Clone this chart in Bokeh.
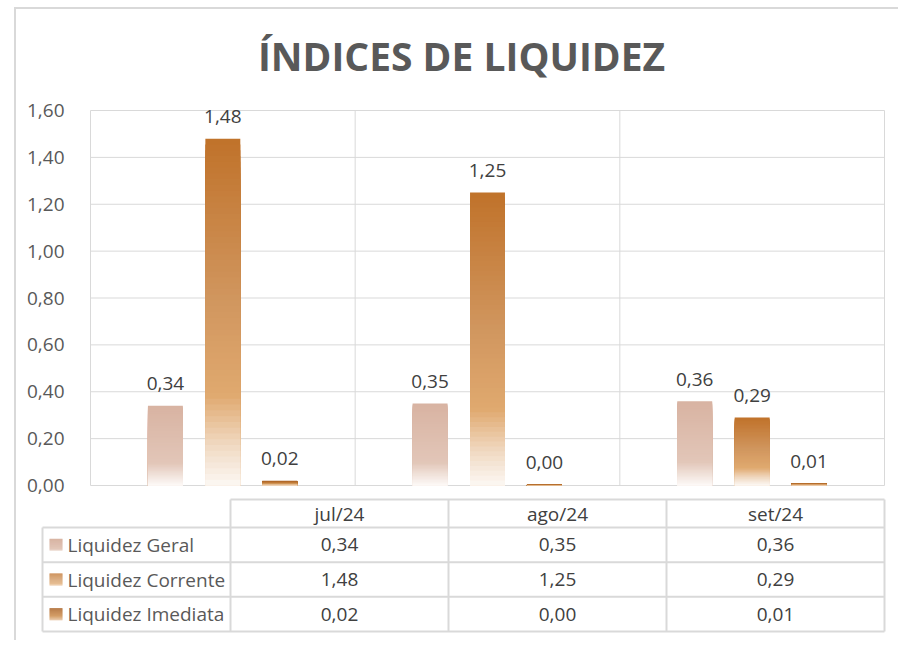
import numpy as np
from bokeh.plotting import figure
from bokeh.models import Range1d, FixedTicker, CustomJSTickFormatter, ColumnDataSource
from bokeh.layouts import column
from bokeh.embed import file_html
from bokeh.resources import INLINE
from bokeh.core.properties import value

# ---------------- data ----------------
months = ["jul/24", "ago/24", "set/24"]
series = ["Liquidez Geral", "Liquidez Corrente", "Liquidez Imediata"]
liq_geral = [0.34, 0.35, 0.36]
liq_corrente = [1.48, 1.25, 0.29]
liq_imediata = [0.02, 0.004, 0.01]
y_ticks = [0.0, 0.2, 0.4, 0.6, 0.8, 1.0, 1.2, 1.4, 1.6]
title_text = "ÍNDICES DE LIQUIDEZ"

# ---------------- styles ----------------
FONT = "Open Sans"
FS = "19px"
GRID = "#D9D9D9"
TXT = "#404040"
TXT2 = "#595959"
gradients = {
    "Liquidez Geral": [(0.0, "#D8B3A2"), (0.72, "#E2C6B8"), (1.0, "#FDFAF8")],
    "Liquidez Corrente": [(0.0, "#C0722A"), (0.45, "#D0955D"), (0.74, "#E0A96F"), (0.88, "#F0D8C0"), (1.0, "#FCF8F4")],
    "Liquidez Imediata": [(0.0, "#A65C1F"), (0.55, "#C98642"), (1.0, "#F3DDC6")],
}
offsets = [-0.217, 0.0, 0.215]
bar_w = 0.132
N_SLICES = 60


def hex2rgb(h):
    h = h.lstrip("#")
    return np.array([int(h[i:i + 2], 16) for i in (0, 2, 4)], dtype=float)


def grad_color(stops, f):
    for (f0, c0), (f1, c1) in zip(stops[:-1], stops[1:]):
        if f <= f1:
            t = 0 if f1 == f0 else (f - f0) / (f1 - f0)
            c = hex2rgb(c0) * (1 - t) + hex2rgb(c1) * t
            return "#%02x%02x%02x" % tuple(int(round(v)) for v in c)
    return stops[-1][1]


def fmt(v):
    return ("%.2f" % v).replace(".", ",")


# ---------------- geometry (pixels of the frame) ----------------
n_cols = len(months)
n_rows = len(series)
FR_L, FR_R, FR_T, FR_B = 26, 896, 95, 635   # frame edges on the page
px_x = 794 / 3.0          # chart: px per category (0 -> x=90)
px_y = 375 / 1.6          # chart: px per unit (0 -> y=485)
lab_w = 188 / 218.0       # table: label column width in column units
tpx_x = 842 / (n_cols + lab_w)   # table spans x=42..884
row_px = 34.67            # table row 0 top at y=527
hdr_h = 28 / row_px

p = figure(width=882, height=631,
           x_range=Range1d(-(90 - FR_L) / px_x, n_cols + (FR_R - 884) / px_x),
           y_range=Range1d(-(FR_B - 485) / px_y, 1.6 + (110 - FR_T) / px_y),
           output_backend="svg", toolbar_location=None,
           min_border_left=FR_L - 16, min_border_right=898 - FR_R,
           min_border_top=FR_T - 9, min_border_bottom=640 - FR_B,
           title=title_text)
p.extra_x_ranges = {"tab": Range1d(-lab_w - (42 - FR_L) / tpx_x, n_cols + (FR_R - 884) / tpx_x)}
p.extra_y_ranges = {"tab": Range1d((FR_B - 527) / row_px, (FR_T - 527) / row_px)}

p.outline_line_color = None
p.background_fill_color = "white"
p.border_fill_color = "white"
p.title.text_font = FONT
p.title.text_font_size = "39px"
p.title.text_font_style = "bold"
p.title.text_color = TXT2
p.title.align = "center"
p.title.standoff = 28

p.xaxis.visible = False
p.grid.visible = False
p.yaxis.fixed_location = 0
p.yaxis.ticker = FixedTicker(ticks=y_ticks)
p.yaxis.formatter = CustomJSTickFormatter(code="return tick.toFixed(2).replace('.', ',');")
p.yaxis.axis_line_color = None
p.yaxis.major_tick_line_color = None
p.yaxis.minor_tick_line_color = None
p.yaxis.major_label_standoff = 20
p.yaxis.major_label_text_font = FONT
p.yaxis.major_label_text_font_size = FS
p.yaxis.major_label_text_color = TXT2

# gridlines of the plot area
p.segment(x0=[0] * len(y_ticks), x1=[n_cols] * len(y_ticks), y0=y_ticks, y1=y_ticks,
          line_color=GRID, line_width=1)
p.segment(x0=list(range(n_cols + 1)), x1=list(range(n_cols + 1)),
          y0=[0] * (n_cols + 1), y1=[y_ticks[-1]] * (n_cols + 1), line_color=GRID, line_width=1)

# bars with vertical gradient
all_vals = [liq_geral, liq_corrente, liq_imediata]
L, R, B, T, C = [], [], [], [], []
lx, ly, lt = [], [], []
for si, name in enumerate(series):
    stops = gradients[name]
    for mi, v in enumerate(all_vals[si]):
        cx = mi + 0.5 + offsets[si]
        for k in range(N_SLICES - 1, -1, -1):
            f = 1 - (k + 0.5) / N_SLICES
            L.append(cx - bar_w / 2)
            R.append(cx + bar_w / 2)
            B.append(0)
            T.append(v * (k + 1) / N_SLICES)
            C.append(grad_color(stops, f))
        lx.append(cx)
        ly.append(v)
        lt.append(fmt(v))

p.quad(left="left", right="right", bottom="bottom", top="top", fill_color="color",
       line_color=None, source=ColumnDataSource(dict(left=L, right=R, bottom=B, top=T, color=C)))
p.text(x=lx, y=ly, text=lt, text_align="center", text_baseline="alphabetic", y_offset=-22,
       text_font=value(FONT), text_font_size=FS, text_color=TXT)

# ---------------- data table ----------------
x0, y0, x1, y1 = [], [], [], []
x0.append(0); x1.append(n_cols); y0.append(-hdr_h); y1.append(-hdr_h)
for r in range(n_rows + 1):
    x0.append(-lab_w); x1.append(n_cols); y0.append(r); y1.append(r)
x0.append(-lab_w); x1.append(-lab_w); y0.append(0); y1.append(n_rows)
for c in range(n_cols + 1):
    x0.append(c); x1.append(c); y0.append(-hdr_h); y1.append(n_rows)
p.segment(x0=x0, y0=y0, x1=x1, y1=y1, line_color=GRID, line_width=2,
          x_range_name="tab", y_range_name="tab")

p.text(x=[c + 0.5 for c in range(n_cols)], y=[-hdr_h / 2] * n_cols, text=months,
       text_align="center", text_baseline="middle", text_font=value(FONT),
       text_font_size=FS, text_color=TXT, x_range_name="tab", y_range_name="tab")

vx, vy, vt = [], [], []
for r in range(n_rows):
    for c in range(n_cols):
        vx.append(c + 0.5); vy.append(r + 0.5); vt.append(fmt(all_vals[r][c]))
p.text(x=vx, y=vy, text=vt, text_align="center", text_baseline="middle",
       text_font=value(FONT), text_font_size=FS, text_color=TXT,
       x_range_name="tab", y_range_name="tab")

p.text(x=[-lab_w + 25 / 218.0] * n_rows, y=[r + 0.5 for r in range(n_rows)], text=series,
       text_align="left", text_baseline="middle", text_font=value(FONT),
       text_font_size=FS, text_color=TXT2, x_range_name="tab", y_range_name="tab")

# legend swatches with gradient
sw_l = -lab_w + 7 / 218.0
sw_w = 13 / 218.0
sw_h = 12 / row_px
SL, SR, SB, ST, SC = [], [], [], [], []
ns = 12
for r, name in enumerate(series):
    top = r + 0.5 - sw_h / 2
    for k in range(ns):
        f = (k + 0.5) / ns
        SL.append(sw_l); SR.append(sw_l + sw_w)
        SB.append(top + sw_h * k / ns)
        ST.append(top + sw_h * (k + 1) / ns + (0.002 if k < ns - 1 else 0))
        SC.append(grad_color(gradients[name], f * 0.85))
p.quad(left="l", right="r", bottom="b", top="t", fill_color="c", line_color=None,
       source=ColumnDataSource(dict(l=SL, r=SR, b=SB, t=ST, c=SC)),
       x_range_name="tab", y_range_name="tab")

layout = column(p, margin=(7, 0, 0, 14),
                styles={"border-left": "2px solid #D9D9D9", "border-top": "2px solid #D9D9D9"})

open("out.html", "w").write(file_html(layout, INLINE))
